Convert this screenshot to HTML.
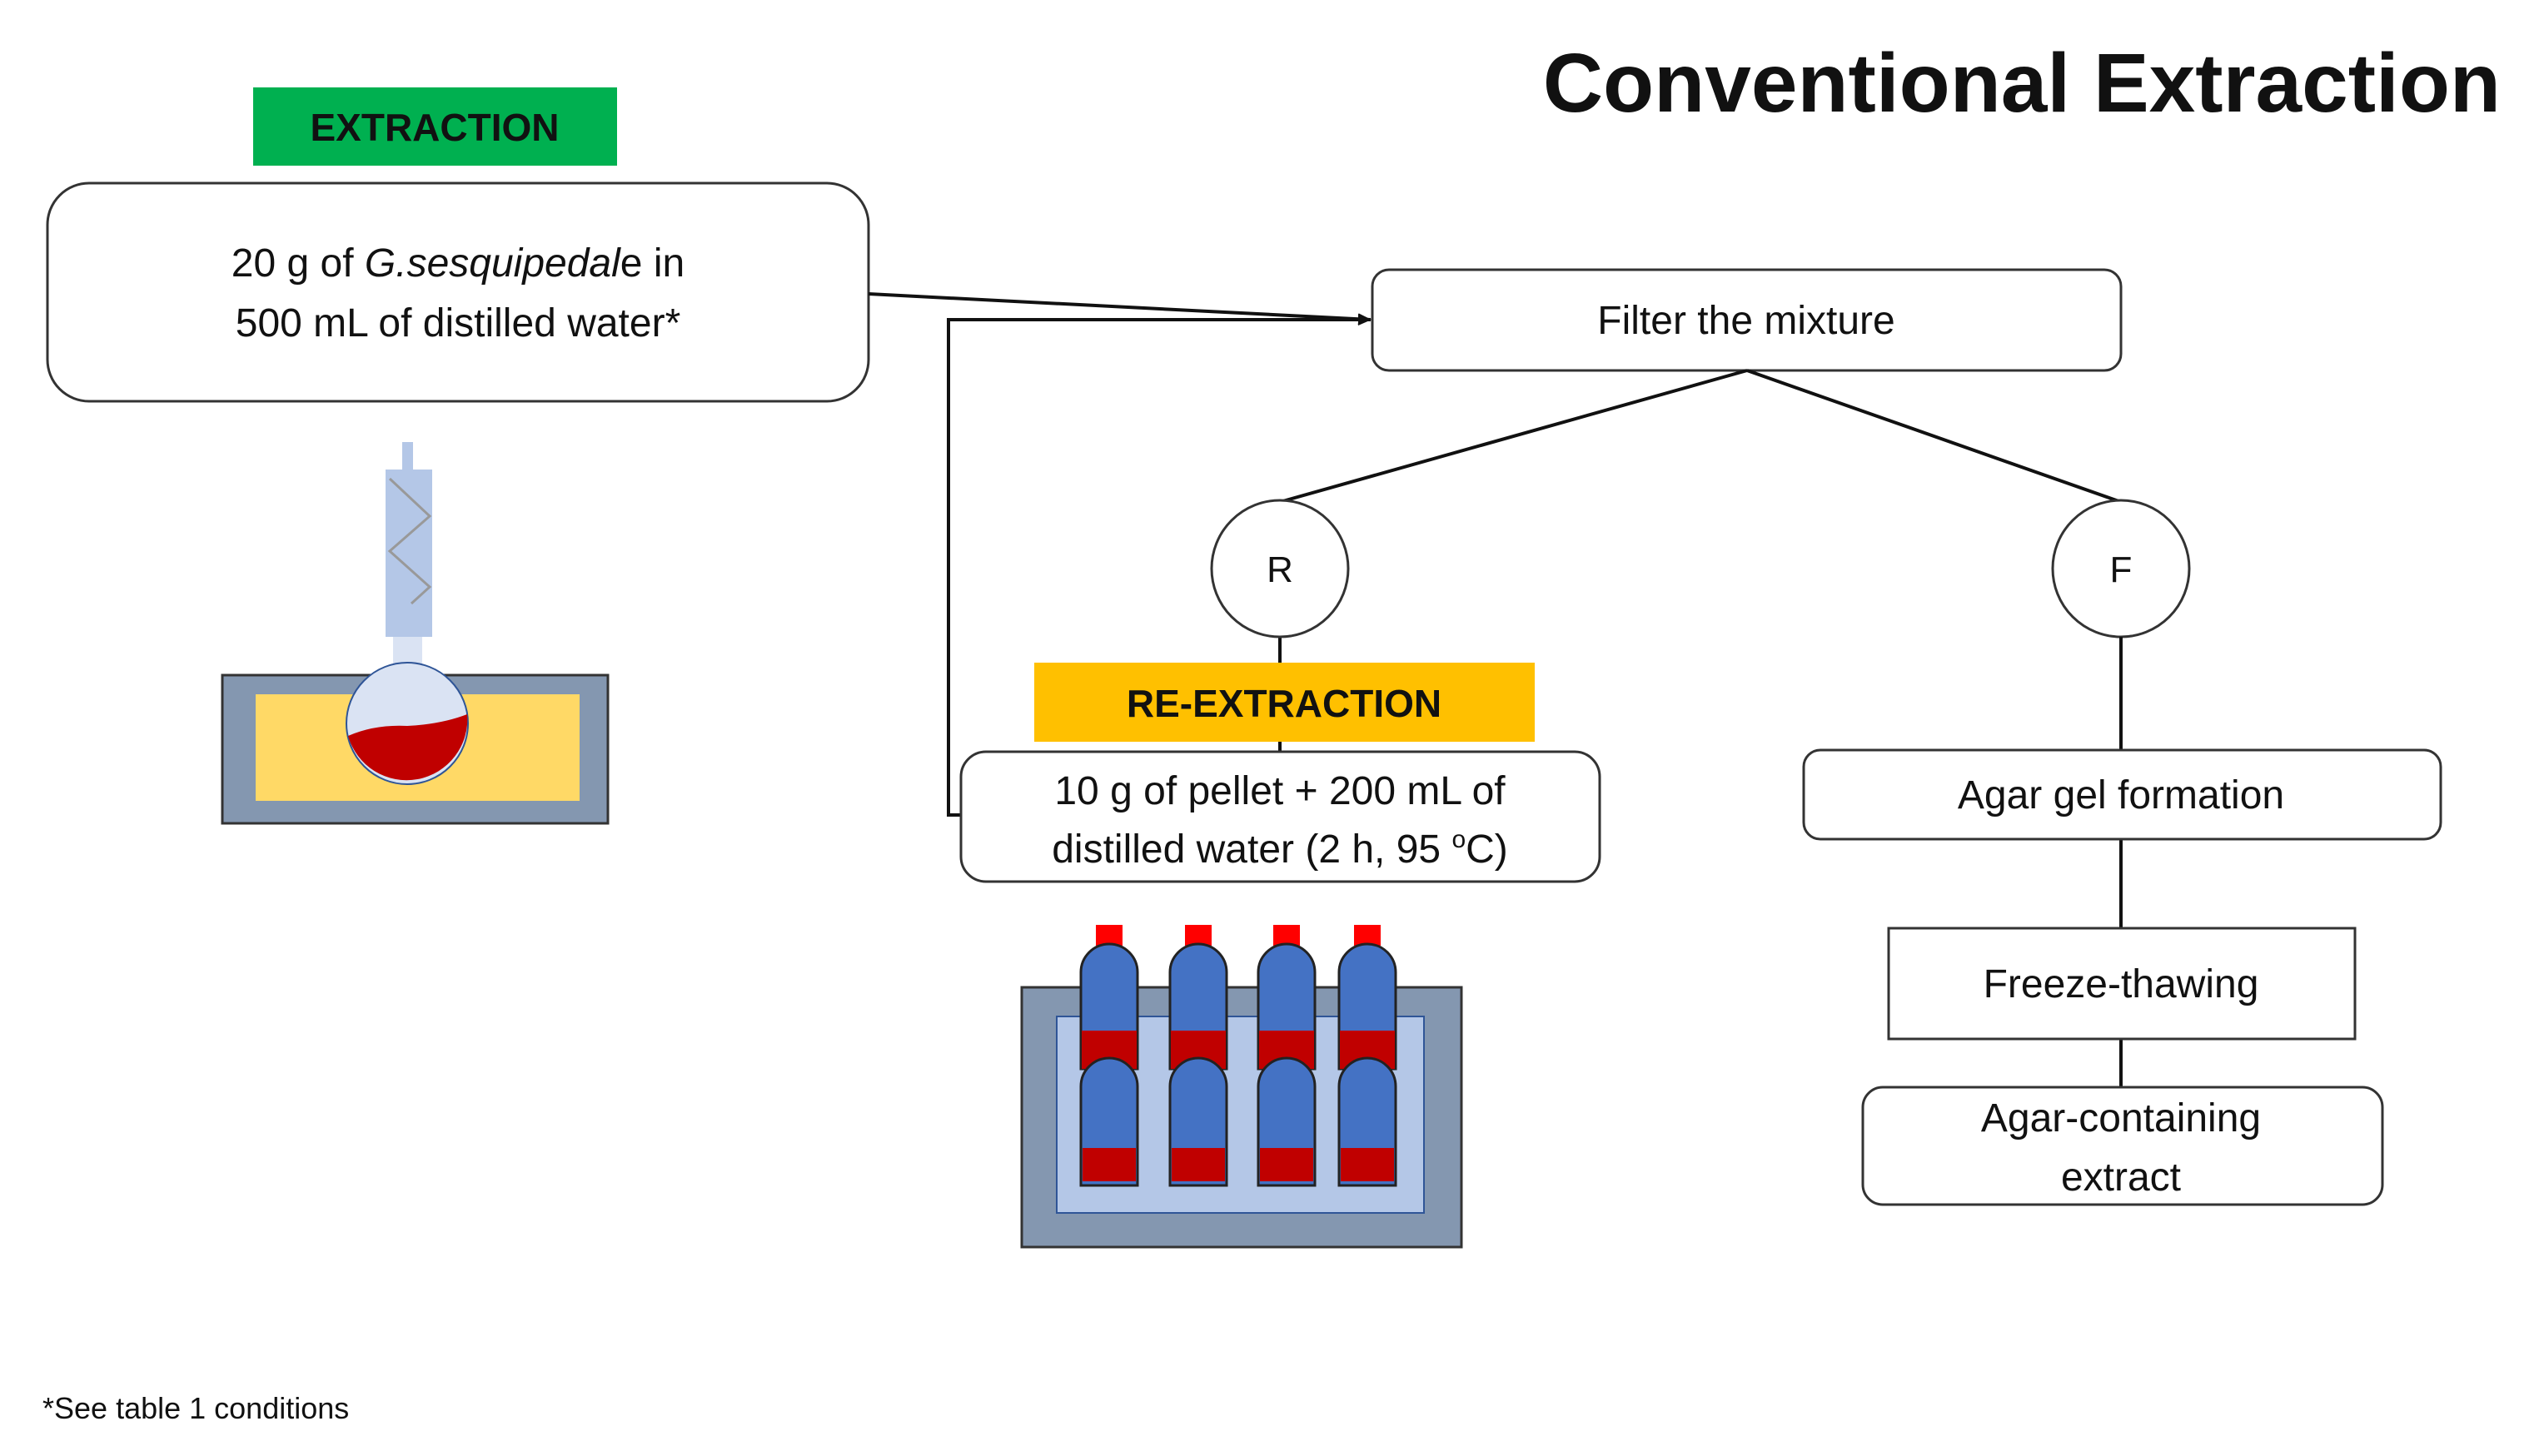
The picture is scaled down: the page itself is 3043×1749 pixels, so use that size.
<!DOCTYPE html>
<html><head><meta charset="utf-8"><style>
html,body{margin:0;padding:0;background:#fff;}
svg{display:block;}
text{font-family:"Liberation Sans",sans-serif;fill:#111;}
</style></head><body>
<svg width="3043" height="1749" viewBox="0 0 3043 1749" xmlns="http://www.w3.org/2000/svg">
<defs>
<marker id="ah" markerWidth="16" markerHeight="14" refX="15" refY="7" orient="auto" markerUnits="userSpaceOnUse" viewBox="0 0 16 14">
<path d="M0,0 L16,7 L0,14 z" fill="#111"/></marker>
</defs>
<text x="3003" y="134" font-size="100" font-weight="bold" text-anchor="end">Conventional Extraction</text>

<rect x="304" y="105" width="437" height="94" fill="#00B050"/>
<text x="522" y="169" font-size="46" font-weight="bold" text-anchor="middle">EXTRACTION</text>

<rect x="57" y="220" width="986" height="262" rx="50" fill="#fff" stroke="#333" stroke-width="3"/>
<text x="550" y="332" font-size="48" text-anchor="middle">20 g of <tspan font-style="italic">G.sesquipedal</tspan>e in</text>
<text x="550" y="404" font-size="48" text-anchor="middle">500 mL of distilled water*</text>

<!-- apparatus -->
<rect x="483" y="531" width="13" height="35" fill="#B4C7E7"/>
<rect x="463" y="564" width="56" height="201" fill="#B4C7E7"/>
<polyline points="468,575 516,620 468,662 516,705 494,725" fill="none" stroke="#999" stroke-width="3"/>
<rect x="472" y="765" width="35" height="40" fill="#DAE3F3"/>
<rect x="267" y="811" width="463" height="178" fill="#8497B0" stroke="#333" stroke-width="3"/>
<rect x="307" y="834" width="389" height="128" fill="#FFD966"/>
<circle cx="489" cy="869" r="73" fill="#DAE3F3" stroke="#2F5597" stroke-width="2"/>
<path d="M418,884 Q450,870 489,872 Q530,870 561,858 A73,73 0 0 1 418,884 z" fill="#C00000"/>

<!-- arrow main to filter -->
<line x1="1043" y1="353" x2="1646" y2="384" stroke="#111" stroke-width="4" marker-end="url(#ah)"/>
<polyline points="1154,979 1139,979 1139,384 1646,384" fill="none" stroke="#111" stroke-width="4" marker-end="url(#ah)"/>

<rect x="1648" y="324" width="899" height="121" rx="20" fill="#fff" stroke="#333" stroke-width="3"/>
<text x="2097" y="401" font-size="48" text-anchor="middle">Filter the mixture</text>

<line x1="2098" y1="445" x2="1537" y2="603" stroke="#111" stroke-width="4"/>
<line x1="2098" y1="445" x2="2547" y2="603" stroke="#111" stroke-width="4"/>

<line x1="1537" y1="765" x2="1537" y2="903" stroke="#111" stroke-width="4"/>
<circle cx="1537" cy="683" r="82" fill="#fff" stroke="#333" stroke-width="3"/>
<text x="1537" y="699" font-size="44" text-anchor="middle">R</text>
<circle cx="2547" cy="683" r="82" fill="#fff" stroke="#333" stroke-width="3"/>
<text x="2547" y="699" font-size="44" text-anchor="middle">F</text>

<rect x="1242" y="796" width="601" height="95" fill="#FFC000"/>
<text x="1542" y="861" font-size="46" font-weight="bold" text-anchor="middle">RE-EXTRACTION</text>

<rect x="1154" y="903" width="767" height="156" rx="30" fill="#fff" stroke="#333" stroke-width="3"/>
<text x="1537" y="966" font-size="48" text-anchor="middle">10 g of pellet + 200 mL of</text>
<text x="1537" y="1036" font-size="48" text-anchor="middle">distilled water (2 h, 95 <tspan font-size="30" dy="-18">o</tspan><tspan dy="18">C)</tspan></text>

<!-- bath with bottles -->
<rect x="1227" y="1186" width="528" height="312" fill="#8497B0" stroke="#333" stroke-width="3"/>
<rect x="1269" y="1221" width="441" height="236" fill="#B4C7E7" stroke="#2F5597" stroke-width="2"/>
<g stroke="#222" stroke-width="3">
<g id="b1">
<rect x="1316" y="1111" width="32" height="25" fill="#FF0000" stroke="none"/>
<path d="M1298,1284 L1298,1168 A34,34 0 0 1 1366,1168 L1366,1284 z" fill="#4472C4"/>
<rect x="1299" y="1238" width="66" height="46" fill="#C00000" stroke="none"/>
<path d="M1298,1424 L1298,1305 A34,34 0 0 1 1366,1305 L1366,1424 z" fill="#4472C4"/>
<rect x="1300" y="1379" width="64" height="40" fill="#C00000" stroke="none"/>
</g>
<use href="#b1" x="107"/>
<use href="#b1" x="213"/>
<use href="#b1" x="310"/>
</g>

<!-- F branch -->
<line x1="2547" y1="765" x2="2547" y2="1306" stroke="#111" stroke-width="4"/>
<rect x="2166" y="901" width="765" height="107" rx="20" fill="#fff" stroke="#333" stroke-width="3"/>
<text x="2547" y="971" font-size="48" text-anchor="middle">Agar gel formation</text>
<rect x="2268" y="1115" width="560" height="133" fill="#fff" stroke="#333" stroke-width="3"/>
<text x="2547" y="1198" font-size="48" text-anchor="middle">Freeze-thawing</text>
<rect x="2237" y="1306" width="624" height="141" rx="24" fill="#fff" stroke="#333" stroke-width="3"/>
<text x="2547" y="1359" font-size="48" text-anchor="middle">Agar-containing</text>
<text x="2547" y="1430" font-size="48" text-anchor="middle">extract</text>

<text x="51" y="1704" font-size="36">*See table 1 conditions</text>
</svg>
</body></html>
